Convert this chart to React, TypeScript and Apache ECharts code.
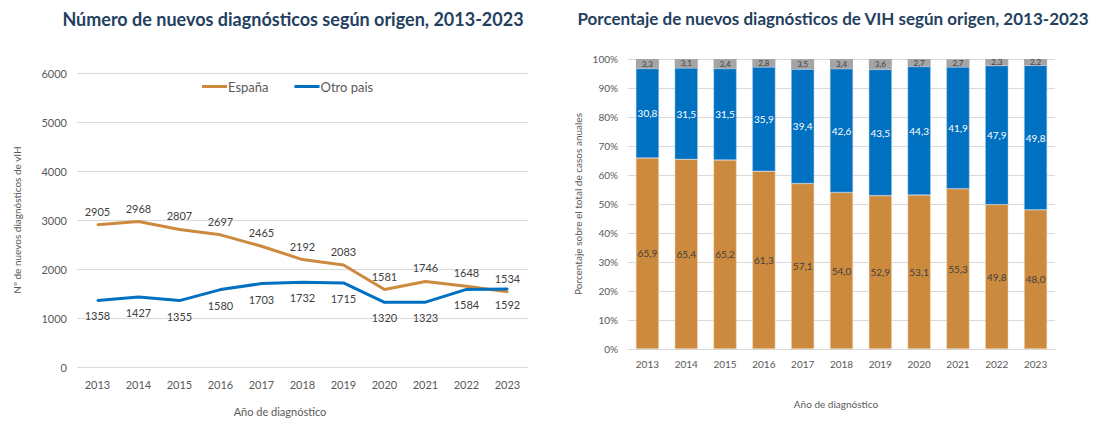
import React, { useEffect, useRef } from "react";
import * as echarts from "echarts";

const years = ["2013", "2014", "2015", "2016", "2017", "2018", "2019", "2020", "2021", "2022", "2023"];
const espanaCount = [2905, 2968, 2807, 2697, 2465, 2192, 2083, 1581, 1746, 1648, 1534];
const otroCount = [1358, 1427, 1355, 1580, 1703, 1732, 1715, 1320, 1323, 1584, 1592];
const espanaPct = [65.9, 65.4, 65.2, 61.3, 57.1, 54.0, 52.9, 53.1, 55.3, 49.8, 48.0];
const otroPct = [30.8, 31.5, 31.5, 35.9, 39.4, 42.6, 43.5, 44.3, 41.9, 47.9, 49.8];
const desconocidoPct = [3.3, 3.1, 3.4, 2.8, 3.5, 3.4, 3.6, 2.7, 2.7, 2.3, 2.2];

const FONT = "Lato, 'Open Sans', sans-serif";
const ORANGE = "#CC8A3E";
const BLUE = "#0070C0";
const GREY = "#A5A5A5";
const TXT = "#595959";

const fmt = (p: any) => Number(p.value).toFixed(1).replace(".", ",");

export default function App() {
  const ref = useRef<HTMLDivElement>(null);
  useEffect(() => {
    if (!ref.current) return;
    const chart = echarts.init(ref.current, null, { renderer: "svg" });
    chart.setOption({
      animation: false,
      textStyle: { fontFamily: FONT },
      title: [
        {
          text: "Número de nuevos diagnósticos según origen, 2013-2023",
          left: 288,
          textAlign: "center",
          top: 5,
          textStyle: { fontFamily: FONT, fontSize: 18, fontWeight: "bold", color: "#243F60" },
        },
        {
          text: "Porcentaje de nuevos diagnósticos de VIH según origen, 2013-2023",
          left: 828,
          textAlign: "center",
          top: 5,
          textStyle: { fontFamily: FONT, fontSize: 17, fontWeight: "bold", color: "#243F60" },
        },
      ],
      legend: {
        data: ["España", "Otro pais"],
        left: 197,
        top: 75,
        itemWidth: 25,
        itemHeight: 3,
        itemGap: 26,
        icon: "rect",
        textStyle: { fontFamily: FONT, fontSize: 13, color: TXT, padding: [0, 0, 0, -4] },
      },
      grid: [
        { left: 77, top: 73, width: 451, height: 294 },
        { left: 628, top: 59, width: 427, height: 290 },
      ],
      xAxis: [
        {
          type: "category",
          data: years,
          gridIndex: 0,
          axisLine: { show: false },
          axisTick: { show: false },
          axisLabel: { color: TXT, fontSize: 11, margin: 12, fontFamily: FONT },
        },
        {
          type: "category",
          data: years,
          gridIndex: 1,
          axisLine: { lineStyle: { color: "#D9D9D9" } },
          axisTick: { show: false },
          axisLabel: { color: TXT, fontSize: 10, margin: 10, fontFamily: FONT },
        },
      ],
      yAxis: [
        {
          type: "value",
          gridIndex: 0,
          min: 0,
          max: 6000,
          interval: 1000,
          axisLabel: { color: TXT, fontSize: 11, margin: 10, fontFamily: FONT, formatter: (v: number) => String(v) },
          splitLine: { lineStyle: { color: "#D9D9D9", width: 1 } },
        },
        {
          type: "value",
          gridIndex: 1,
          min: 0,
          max: 100,
          interval: 10,
          axisLabel: { color: TXT, fontSize: 10, margin: 10, formatter: "{value}%", fontFamily: FONT },
          splitLine: { lineStyle: { color: "#D9D9D9", width: 1 } },
        },
      ],
      series: [
        {
          name: "España",
          type: "line",
          xAxisIndex: 0,
          yAxisIndex: 0,
          data: espanaCount,
          showSymbol: true,
          symbol: "circle",
          symbolSize: 2,
          lineStyle: { color: ORANGE, width: 3 },
          itemStyle: { color: ORANGE, borderWidth: 0 },
          label: { show: true, position: "top", distance: 7, color: "#404040", fontSize: 11, fontFamily: FONT },
        },
        {
          name: "Otro pais",
          type: "line",
          xAxisIndex: 0,
          yAxisIndex: 0,
          data: otroCount,
          showSymbol: true,
          symbol: "circle",
          symbolSize: 2,
          lineStyle: { color: BLUE, width: 3 },
          itemStyle: { color: BLUE, borderWidth: 0 },
          label: { show: true, position: "bottom", distance: 9, color: "#404040", fontSize: 11, fontFamily: FONT },
        },
        {
          name: "España (%)",
          type: "bar",
          stack: "pct",
          xAxisIndex: 1,
          yAxisIndex: 1,
          data: espanaPct,
          barWidth: 23,
          itemStyle: { color: ORANGE, borderColor: "#F2D9BC", borderWidth: 0.5 },
          label: { show: true, position: "inside", color: "#404040", fontSize: 10, formatter: fmt, fontFamily: FONT },
        },
        {
          name: "Otro pais (%)",
          type: "bar",
          stack: "pct",
          xAxisIndex: 1,
          yAxisIndex: 1,
          data: otroPct,
          barWidth: 23,
          itemStyle: { color: BLUE, borderColor: "#9DC3E6", borderWidth: 0.5 },
          label: { show: true, position: "inside", color: "#FFFFFF", fontSize: 10, formatter: fmt, fontFamily: FONT },
        },
        {
          name: "Desconocido (%)",
          type: "bar",
          stack: "pct",
          xAxisIndex: 1,
          yAxisIndex: 1,
          data: desconocidoPct,
          barWidth: 23,
          itemStyle: { color: GREY },
          label: { show: true, position: "inside", color: "#404040", fontSize: 8, formatter: fmt, fontFamily: FONT },
        },
      ],
      graphic: [
        {
          type: "text",
          x: 17,
          y: 220,
          rotation: Math.PI / 2,
          style: {
            text: "Nº de nuevos diagnósticos de vIH",
            fill: TXT,
            font: `10px ${FONT}`,
            align: "center",
            verticalAlign: "middle",
          },
        },
        {
          type: "text",
          x: 280,
          y: 411,
          style: {
            text: "Año de diagnóstico",
            fill: TXT,
            font: `11px ${FONT}`,
            align: "center",
            verticalAlign: "middle",
          },
        },
        {
          type: "text",
          x: 578,
          y: 204,
          rotation: Math.PI / 2,
          style: {
            text: "Porcentaje sobre el total de casos anuales",
            fill: TXT,
            font: `10px ${FONT}`,
            align: "center",
            verticalAlign: "middle",
          },
        },
        {
          type: "text",
          x: 836,
          y: 404,
          style: {
            text: "Año de diagnóstico",
            fill: TXT,
            font: `10px ${FONT}`,
            align: "center",
            verticalAlign: "middle",
          },
        },
      ],
    });
    return () => chart.dispose();
  }, []);
  return (
    <div
      ref={ref}
      style={{ position: "absolute", left: 0, top: 0, width: 1094, height: 421, background: "#fff" }}
    />
  );
}
